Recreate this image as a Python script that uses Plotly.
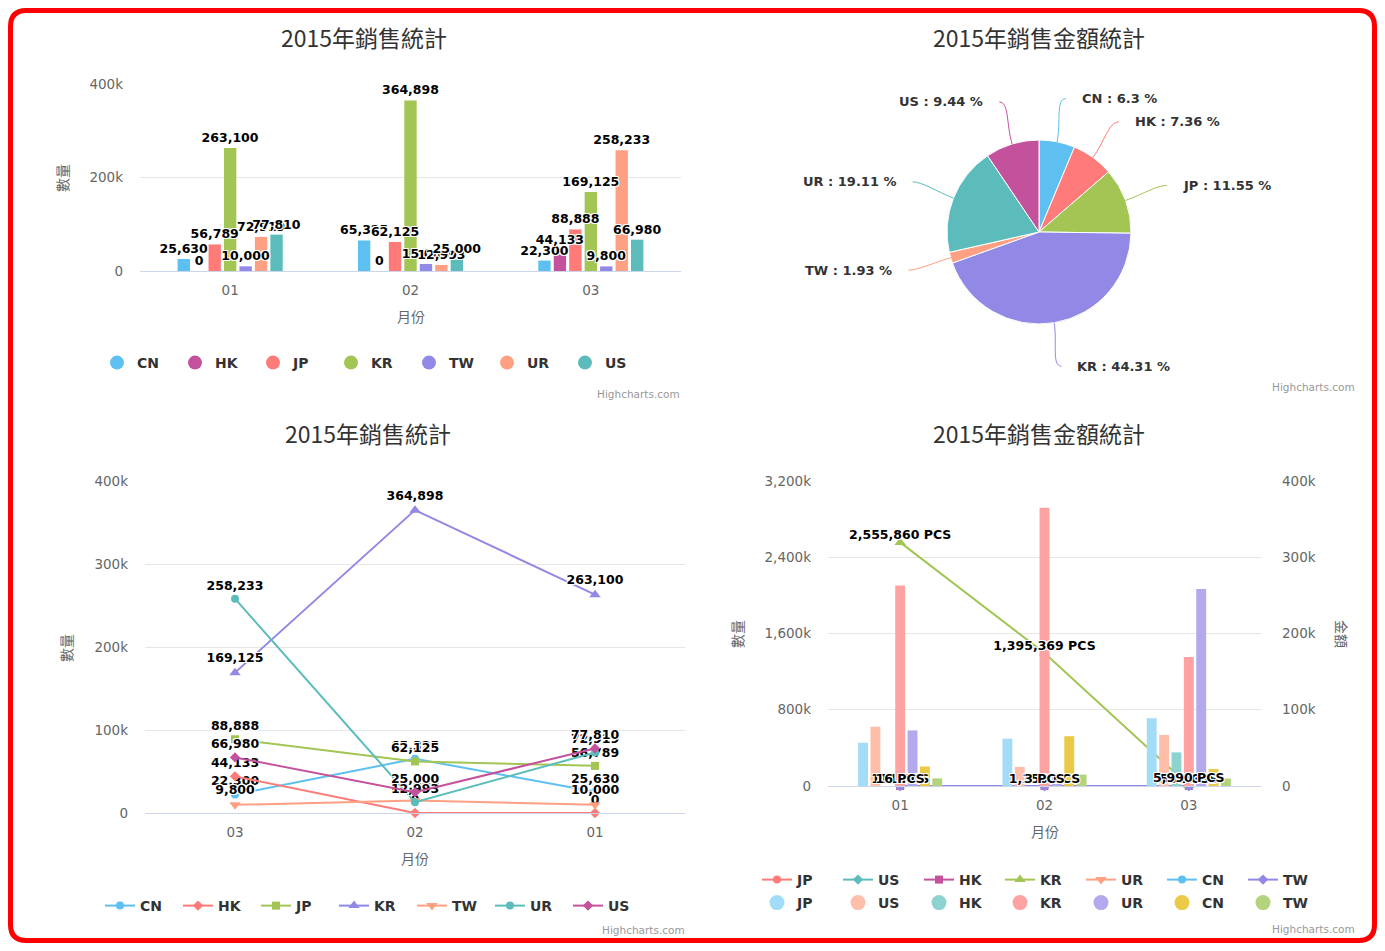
import math
import plotly.graph_objects as go

# ---------------- data ----------------
months = ["01", "02", "03"]
months_line = ["03", "02", "01"]
regions = ["CN", "HK", "JP", "KR", "TW", "UR", "US"]

qty_cn = [25630, 65325, 22300]
qty_hk = [0, 0, 44133]
qty_jp = [56789, 62125, 88888]
qty_kr = [263100, 364898, 169125]
qty_tw = [10000, 15000, 9800]
qty_ur = [72919, 12993, 258233]
qty_us = [77810, 25000, 66980]

share_names = ["CN", "HK", "JP", "KR", "TW", "UR", "US"]
share_pct = [6.3, 7.36, 11.55, 44.31, 1.93, 19.11, 9.44]

pcs_regions = ["JP", "US", "HK", "KR", "UR", "CN", "TW"]
pcs_jp = [111, 1150, 599]
pcs_us = [16, 3, 5]
pcs_hk = [0, 0, 0]
pcs_kr = [2555860, 1395369, 5990]
pcs_ur = [1, 0, 2]
pcs_cn = [6, 2, 3]
pcs_tw = [0, 0, 0]
pcs_labelled = ["JP", "US", "KR"]

ticks_top = [0, 200000, 400000]
ticktext_top = ["0", "200k", "400k"]
ticks_line = [0, 100000, 200000, 300000, 400000]
ticktext_line = ["0", "100k", "200k", "300k", "400k"]
ticks_pcs = [0, 800000, 1600000, 2400000, 3200000]
ticktext_pcs = ["0", "800k", "1,600k", "2,400k", "3,200k"]
ticks_amt = [0, 100000, 200000, 300000, 400000]
ticktext_amt = ["0", "100k", "200k", "300k", "400k"]

title_qty = "2015年銷售統計"
title_amt = "2015年銷售金額統計"
axis_qty = "數量"
axis_amt = "金額"
axis_month = "月份"
credit = "Highcharts.com"

qty = {"CN": qty_cn, "HK": qty_hk, "JP": qty_jp, "KR": qty_kr,
       "TW": qty_tw, "UR": qty_ur, "US": qty_us}
pcs = {"JP": pcs_jp, "US": pcs_us, "HK": pcs_hk, "KR": pcs_kr,
       "UR": pcs_ur, "CN": pcs_cn, "TW": pcs_tw}

# ---------------- styles ----------------
LB, MG, RD, GR, PU, OR, TL = ("#5ec0f0", "#c4519c", "#fe7b79", "#a3c553",
                              "#9288e6", "#ffa083", "#5bbcbb")
bar_colors_top = {"CN": LB, "HK": MG, "JP": RD, "KR": GR, "TW": PU, "UR": OR, "US": TL}
line_colors_bl = {"CN": LB, "HK": RD, "JP": GR, "KR": PU, "TW": OR, "UR": TL, "US": MG}
line_symbols_bl = {"CN": "circle", "HK": "diamond", "JP": "square", "KR": "triangle-up",
                   "TW": "triangle-down", "UR": "circle", "US": "diamond"}
pie_colors = {"CN": LB, "HK": RD, "JP": GR, "KR": PU, "TW": OR, "UR": TL, "US": MG}
br_line_colors = {"JP": RD, "US": TL, "HK": MG, "KR": GR, "UR": OR, "CN": LB, "TW": PU}
br_line_symbols = {"JP": "circle", "US": "diamond", "HK": "square", "KR": "triangle-up",
                   "UR": "triangle-down", "CN": "circle", "TW": "diamond"}
br_bar_colors = {"JP": "#a3dcf6", "US": "#ffbeaa", "HK": "#8fd3d1", "KR": "#ffa2a2",
                 "UR": "#b3aaee", "CN": "#ebca48", "TW": "#b3d47c"}

LATIN = "DejaVu Sans"
CJK = "Noto Sans CJK TC"
OUTLINE = "1px 1px 0 #fff, -1px -1px 0 #fff, 1px -1px 0 #fff, -1px 1px 0 #fff"
label_font = dict(family=LATIN, size=12.5, color="#000000", weight="bold", shadow=OUTLINE)
tick_font = dict(family=LATIN, size=13.5, color="#666666")
legend_font = dict(family=LATIN, size=14, color="#333333", weight="bold")

W, H, OFF = 1369, 935, 8


def fx(X):
    return (X - OFF) / W


def fy(Y):
    return 1 - (Y - OFF) / H


fig = go.Figure()

# ---------------- chart A: grouped columns ----------------
for r in regions:
    fig.add_trace(go.Bar(
        x=months, y=qty[r], name=r, offsetgroup=r,
        marker=dict(color=bar_colors_top[r], line=dict(width=0)),
        showlegend=False, xaxis="x", yaxis="y"))
# label layer: transparent twins sharing each column's slot, drawn above all columns
for r in regions:
    fig.add_trace(go.Bar(
        x=months, y=qty[r], name=r, offsetgroup=r,
        marker=dict(color="rgba(0,0,0,0)", line=dict(width=0)),
        text=[f"{v:,}" for v in qty[r]], textposition="outside", textangle=0,
        textfont=label_font, cliponaxis=False, constraintext="none",
        showlegend=False, xaxis="x", yaxis="y"))
for r in regions:
    fig.add_trace(go.Scatter(
        x=[None], y=[None], mode="markers", name=r,
        marker=dict(symbol="circle", size=14, color=bar_colors_top[r]),
        legend="legend", xaxis="x", yaxis="y"))

# ---------------- chart B: pie ----------------
PIE_CX, PIE_CY, PIE_R = 1039, 232, 92
fig.add_trace(go.Pie(
    labels=share_names, values=share_pct, sort=False, direction="clockwise", rotation=0,
    marker=dict(colors=[pie_colors[n] for n in share_names], line=dict(color="white", width=1)),
    textinfo="none", showlegend=False,
    domain=dict(x=[fx(PIE_CX - PIE_R), fx(PIE_CX + PIE_R)],
                y=[fy(PIE_CY + PIE_R), fy(PIE_CY - PIE_R)])))

# ---------------- chart C: lines ----------------
for r in regions:
    sym = line_symbols_bl[r]
    fig.add_trace(go.Scatter(
        x=months, y=qty[r], name=r, mode="lines+markers+text",
        line=dict(color=line_colors_bl[r], width=2),
        marker=dict(symbol=sym, size=10 if "triangle" in sym else 8, color=line_colors_bl[r]),
        text=[f"{v:,}" for v in qty[r]], textposition="top center", textfont=label_font,
        cliponaxis=False, legend="legend2", xaxis="x2", yaxis="y2"))

# ---------------- chart D: lines (left) + columns (right) ----------------
for r in pcs_regions:
    sym = br_line_symbols[r]
    fig.add_trace(go.Scatter(
        x=months, y=pcs[r], name=r, mode="lines+markers",
        line=dict(color=br_line_colors[r], width=2),
        marker=dict(symbol=sym, size=10 if "triangle" in sym else 8, color=br_line_colors[r]),
        cliponaxis=False, legend="legend3", xaxis="x3", yaxis="y3"))
for r in pcs_regions:
    fig.add_trace(go.Bar(
        x=months, y=qty[r], name=r, marker=dict(color=br_bar_colors[r], line=dict(width=0)),
        showlegend=False, xaxis="x3", yaxis="y4"))
for r in pcs_labelled:
    fig.add_trace(go.Scatter(
        x=months, y=pcs[r], mode="text", text=[f"{v:,} PCS" for v in pcs[r]],
        textposition="top center", textfont=label_font, cliponaxis=False,
        showlegend=False, xaxis="x3", yaxis="y5"))
for r in pcs_regions:
    fig.add_trace(go.Scatter(
        x=[None], y=[None], mode="markers", name=r,
        marker=dict(symbol="circle", size=15, color=br_bar_colors[r]),
        legend="legend4", xaxis="x3", yaxis="y3"))

# ---------------- axes ----------------
def xcat(domain, order, anchor, **kw):
    d = dict(domain=domain, anchor=anchor, type="category", categoryorder="array",
             categoryarray=order, showline=True, linecolor="#ccd6eb", linewidth=1,
             showgrid=False, zeroline=False, ticks="", tickfont=tick_font,
             ticklabelstandoff=7, fixedrange=True)
    d.update(kw)
    return d


def yval(domain, rng, tv, tt, anchor, **kw):
    d = dict(domain=domain, anchor=anchor, range=rng, tickvals=tv, ticktext=tt,
             showgrid=True, gridcolor="#e6e6e6", gridwidth=1, zeroline=False,
             showline=False, ticks="", tickfont=tick_font, ticklabelstandoff=16,
             fixedrange=True)
    d.update(kw)
    return d


def legend_at(X, Y, ew):
    return dict(orientation="h", x=fx(X), y=fy(Y), xanchor="left", yanchor="middle",
                entrywidth=ew, entrywidthmode="pixels", font=legend_font,
                bgcolor="rgba(0,0,0,0)", borderwidth=0, itemclick=False,
                itemdoubleclick=False, tracegroupgap=0)


annotations = []


def text_at(txt, X, Y, font, xanchor="center", angle=0):
    annotations.append(dict(text=txt, x=fx(X), y=fy(Y), xref="paper", yref="paper",
                            showarrow=False, xanchor=xanchor, yanchor="middle",
                            textangle=angle, font=font))


title_font = dict(family=CJK, size=23, color="#333333")
axtitle_font = dict(family=CJK, size=14, color="#666666")
credit_font = dict(family=LATIN, size=10.5, color="#999999")

text_at(title_qty, 364, 37, title_font)
text_at(title_amt, 1039, 37, title_font)
text_at(title_qty, 368, 433, title_font)
text_at(title_amt, 1039, 433, title_font)
text_at(axis_qty, 62, 178, axtitle_font, angle=-90)
text_at(axis_month, 411, 316, axtitle_font)
text_at(axis_qty, 66, 648, axtitle_font, angle=-90)
text_at(axis_month, 415, 858, axtitle_font)
text_at(axis_qty, 737, 634, axtitle_font, angle=-90)
text_at(axis_amt, 1342, 634, axtitle_font, angle=90)
text_at(axis_month, 1045, 831, axtitle_font)
text_at(credit, 682, 394, credit_font, xanchor="right")
text_at(credit, 1357, 387, credit_font, xanchor="right")
text_at(credit, 687, 930, credit_font, xanchor="right")
text_at(credit, 1357, 929, credit_font, xanchor="right")

# pie labels + soft connectors, placed from each slice's mid angle
shapes = []
total = sum(share_pct)
cum = 0.0
pie_label_font = dict(family=LATIN, size=13, color="#333333", weight="bold")
for name, pct in zip(share_names, share_pct):
    frac = pct / total
    ang = (cum + frac / 2) * 2 * math.pi
    cum += frac
    dx, dy = math.sin(ang), -math.cos(ang)
    sgn = 1 if dx >= 0 else -1
    p0 = (PIE_CX + PIE_R * dx, PIE_CY + PIE_R * dy)
    c1 = (PIE_CX + (PIE_R + 20) * dx, PIE_CY + (PIE_R + 20) * dy)
    e = (PIE_CX + (PIE_R + 44) * dx, PIE_CY + (PIE_R + 44) * dy)
    c2 = (e[0] - sgn * 10, e[1])
    path = (f"M {fx(p0[0]):.5f},{fy(p0[1]):.5f} C {fx(c1[0]):.5f},{fy(c1[1]):.5f} "
            f"{fx(c2[0]):.5f},{fy(c2[1]):.5f} {fx(e[0]):.5f},{fy(e[1]):.5f}")
    shapes.append(dict(type="path", path=path, xref="paper", yref="paper",
                       line=dict(color=pie_colors[name], width=1)))
    text_at(f"{name} : {pct:g} %", e[0] + sgn * 14, e[1], pie_label_font,
            xanchor="left" if sgn > 0 else "right")

# red rounded frame
L, T, R, B, RR = 10.5, 10.5, 1374.5, 940.5, 16


def pp(X, Y):
    return f"{fx(X):.5f},{fy(Y):.5f}"


frame = (f"M {pp(L + RR, T)} L {pp(R - RR, T)} Q {pp(R, T)} {pp(R, T + RR)} "
         f"L {pp(R, B - RR)} Q {pp(R, B)} {pp(R - RR, B)} L {pp(L + RR, B)} "
         f"Q {pp(L, B)} {pp(L, B - RR)} L {pp(L, T + RR)} Q {pp(L, T)} {pp(L + RR, T)} Z")
shapes.append(dict(type="path", path=frame, xref="paper", yref="paper",
                   line=dict(color="#ff0000", width=5)))

fig.update_layout(
    width=W, height=H, autosize=False,
    margin=dict(l=0, r=0, t=0, b=0, pad=0, autoexpand=False),
    paper_bgcolor="white", plot_bgcolor="white",
    barmode="group", bargap=0.4, bargroupgap=0.2,
    xaxis=xcat([fx(140), fx(681)], months, "y"),
    yaxis=yval([fy(271), fy(84)], [0, 400000], ticks_top, ticktext_top, "x"),
    xaxis2=xcat([fx(145), fx(685)], months_line, "y2", range=[-0.5, 2.5]),
    yaxis2=yval([fy(813), fy(481)], [0, 400000], ticks_line, ticktext_line, "x2"),
    xaxis3=xcat([fx(828), fx(1261)], months, "y3", range=[-0.5, 2.5]),
    yaxis3=yval([fy(786), fy(481)], [0, 3200000], ticks_pcs, ticktext_pcs, "x3"),
    yaxis4=dict(overlaying="y3", side="right", anchor="x3", range=[0, 400000],
                tickvals=ticks_amt, ticktext=ticktext_amt, showgrid=False, zeroline=False,
                showline=False, ticks="", tickfont=tick_font, ticklabelstandoff=20,
                fixedrange=True),
    yaxis5=dict(overlaying="y3", anchor="x3", range=[0, 3200000], visible=False,
                fixedrange=True),
    legend=legend_at(97, 363, 33),
    legend2=legend_at(100, 906, 33),
    legend3=legend_at(757, 880, 36),
    legend4=legend_at(757, 903, 36),
    annotations=annotations,
    shapes=shapes,
    hovermode=False,
)

fig.write_html("out.html")
